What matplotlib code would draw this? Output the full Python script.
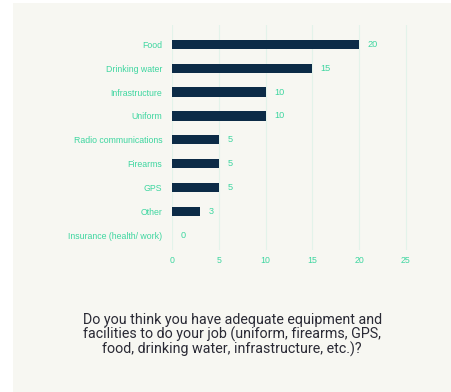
import numpy as np
import matplotlib
matplotlib.use("Agg")
import matplotlib.pyplot as plt
from matplotlib.patches import Rectangle

categories = ["Food", "Drinking water", "Infrastructure", "Uniform",
              "Radio communications", "Firearms", "GPS", "Other",
              "Insurance (health/ work)"]
values = [20, 15, 10, 10, 5, 5, 5, 3, 0]
xticks = [0, 5, 10, 15, 20, 25]

bg = "#f7f7f2"
green = "#3ed6a0"
navy = "#0c2b47"

plt.rcParams["font.family"] = ["Liberation Sans", "DejaVu Sans"]

fig = plt.figure(figsize=(4.51, 3.92), dpi=100)
fig.patch.set_facecolor("white")
fig.patches.append(Rectangle((13 / 451, 0), 1, 1 - 3 / 392, transform=fig.transFigure,
                             facecolor=bg, edgecolor="none", zorder=-10))

ax = fig.add_axes([172 / 451, 1 - 250 / 392, 260 / 451, 225 / 392])
ax.set_facecolor("none")
y = np.arange(len(categories))
ax.barh(y, values, height=0.38, color=navy, zorder=3)
for yi, v in zip(y, values):
    ax.text(v + 0.9, yi, str(v), va="center", ha="left", fontsize=6.6, color=green)

ax.set_xlim(0, 27.8)
ax.set_ylim(len(categories) - 0.4, -0.8)
ax.set_xticks(xticks)
ax.set_yticks(y)
ax.set_yticklabels(categories)
ax.tick_params(axis="both", length=0, labelsize=6.3, labelcolor=green)
ax.tick_params(axis="y", pad=7)
ax.tick_params(axis="x", pad=4)
ax.grid(axis="x", color="#e3f3ea", linewidth=0.8, zorder=0)
for s in ax.spines.values():
    s.set_visible(False)

fig.text(0.515, 1 - 335 / 392,
         "Do you think you have adequate equipment and\n"
         "facilities to do your job (uniform, firearms, GPS,\n"
         "food, drinking water, infrastructure, etc.)?",
         ha="center", va="center", fontsize=10.3, color="#2a2a35",
         linespacing=0.98, family="Roboto")

fig.savefig("out.png", dpi=100, facecolor=fig.get_facecolor())
